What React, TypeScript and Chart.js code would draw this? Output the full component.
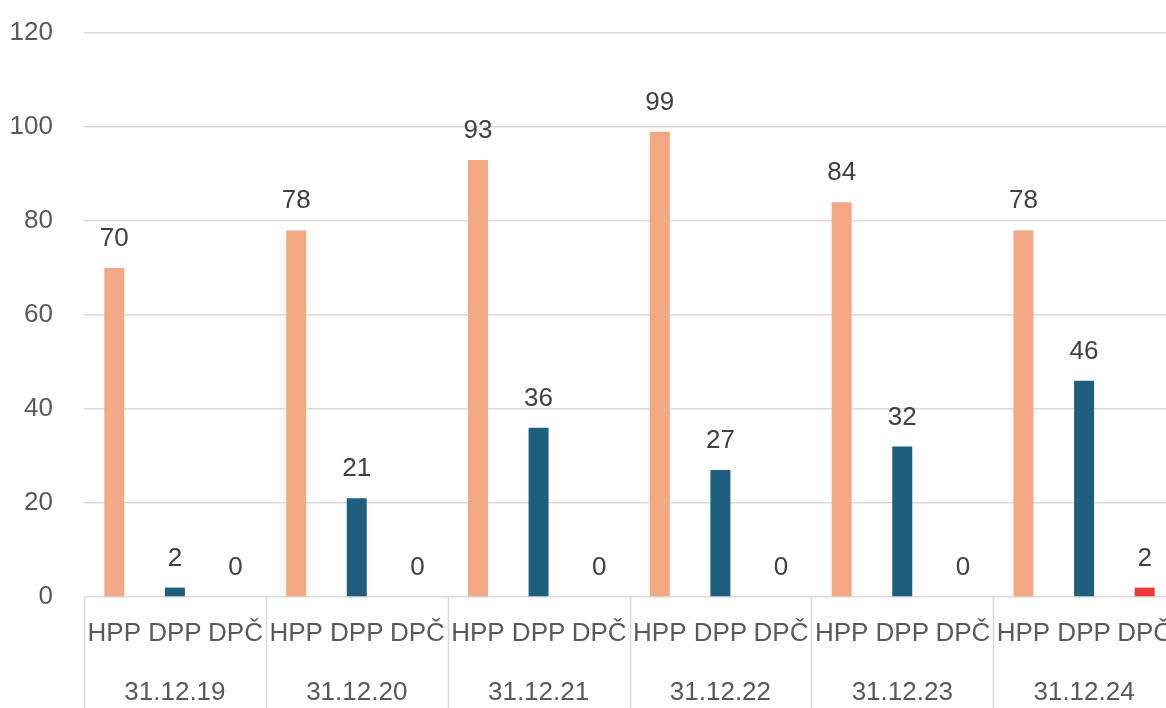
import React, { useEffect, useRef } from "react";
import { Chart, registerables } from "chart.js";

Chart.register(...registerables);

// Reporting dates (outer axis level) and contract types (inner level)
const dates = ["31.12.19", "31.12.20", "31.12.21", "31.12.22", "31.12.23", "31.12.24"];
const types = ["HPP", "DPP", "DPČ"];

// Headcount per contract type at each date
const hpp = [70, 78, 93, 99, 84, 78];
const dpp = [2, 21, 36, 27, 32, 46];
const dpc = [0, 0, 0, 0, 0, 2];

const yTicks = [0, 20, 40, 60, 80, 100, 120];

const typeColors = ["#F2A882", "#1E5F80", "#EE3838"];

const FONT = '"Liberation Sans", Arial, sans-serif';
const TEXT = "#595959";
const LABEL = "#404040";
const GRID = "#d9d9d9";

const series = [hpp, dpp, dpc];
const flatLabels: string[] = [];
const flatValues: number[] = [];
const flatColors: string[] = [];
dates.forEach((d, gi) => {
  types.forEach((t, ti) => {
    flatLabels.push(t);
    flatValues.push(series[ti][gi]);
    flatColors.push(typeColors[ti]);
  });
});

const multiLevelAxis = {
  id: "multiLevelAxis",
  afterDatasetsDraw(chart: any) {
    const { ctx, chartArea, scales } = chart;
    const x = scales.x;
    const meta = chart.getDatasetMeta(0);
    ctx.save();

    // value labels above bars
    ctx.font = `26px ${FONT}`;
    ctx.fillStyle = LABEL;
    ctx.textAlign = "center";
    ctx.textBaseline = "alphabetic";
    meta.data.forEach((bar: any, i: number) => {
      ctx.fillText(String(flatValues[i]), bar.x, bar.y - 22);
    });

    // inner level: contract types
    ctx.fillStyle = TEXT;
    ctx.textBaseline = "middle";
    flatLabels.forEach((lab, i) => {
      ctx.fillText(lab, x.getPixelForValue(i), chartArea.bottom + 37);
    });

    // outer level: dates
    const step = x.getPixelForValue(1) - x.getPixelForValue(0);
    dates.forEach((d, gi) => {
      const cx = x.getPixelForValue(gi * 3 + 1);
      ctx.fillText(d, cx, chartArea.bottom + 96);
    });

    // group separators
    ctx.strokeStyle = GRID;
    ctx.lineWidth = 1.5;
    for (let gi = 0; gi <= dates.length; gi++) {
      const px = Math.round(x.getPixelForValue(gi * 3) - step / 2) + 0.5;
      ctx.beginPath();
      ctx.moveTo(px, chartArea.bottom);
      ctx.lineTo(px, chart.height);
      ctx.stroke();
    }
    ctx.restore();
  },
};

export default function App() {
  const ref = useRef<HTMLCanvasElement | null>(null);

  useEffect(() => {
    if (!ref.current) return;
    const chart = new Chart(ref.current, {
      type: "bar",
      data: {
        labels: flatLabels,
        datasets: [
          {
            data: flatValues,
            backgroundColor: flatColors,
            barPercentage: 0.33,
            categoryPercentage: 1,
          },
        ],
      },
      options: {
        responsive: false,
        animation: false,
        events: [],
        layout: { padding: { top: 33, right: 1, left: 0, bottom: 0 } },
        plugins: { legend: { display: false }, tooltip: { enabled: false } },
        scales: {
          x: {
            ticks: { display: false },
            grid: { display: false },
            border: { display: false },
            afterFit: (s: any) => {
              s.height = 111;
            },
          },
          y: {
            min: 0,
            max: 120,
            afterBuildTicks: (s: any) => {
              s.ticks = yTicks.map((v) => ({ value: v }));
            },
            ticks: {
              padding: 31,
              color: TEXT,
              font: { family: FONT, size: 26 },
            },
            grid: { color: GRID, lineWidth: 1.5, drawTicks: false },
            border: { display: false },
            afterFit: (s: any) => {
              s.width = 84;
              s.paddingTop = 13;
              s.paddingBottom = 13;
            },
          },
        },
      },
      plugins: [multiLevelAxis],
    });
    return () => chart.destroy();
  }, []);

  return (
    <div
      style={{
        position: "absolute",
        left: 0,
        top: 0,
        width: 1166,
        height: 708,
        overflow: "hidden",
        background: "#fff",
      }}
    >
      <canvas ref={ref} width={1176} height={708} style={{ display: "block" }} />
    </div>
  );
}
